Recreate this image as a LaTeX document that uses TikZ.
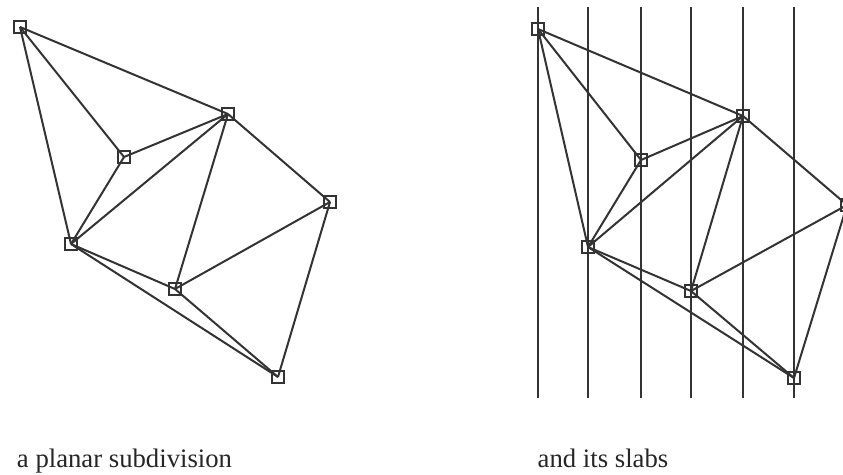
\documentclass[tikz,border=0pt]{standalone}
\usepackage{fontspec}
\setmainfont{Liberation Serif}
\usetikzlibrary{positioning}
\tikzset{
  vtx/.style={draw, rectangle, minimum size=12pt, inner sep=0pt, line width=1.5pt, black!80},
  edge/.style={line width=2pt, black!80},
  slab/.style={line width=2pt, black!80},
  caption/.style={font=\fontsize{26.7}{30}\selectfont, anchor=base, text=black!85}
}
\begin{document}
\begin{tikzpicture}[x=1pt,y=-1pt]
\useasboundingbox (0,0) rectangle (843,474);

% Left: the planar subdivision
\node[vtx] (lA) at (20,27) {};
\node[vtx] (lB) at (228,114) {};
\node[vtx] (lC) at (124,157) {};
\node[vtx] (lD) at (330,202) {};
\node[vtx] (lE) at (71,244) {};
\node[vtx] (lF) at (175,289) {};
\node[vtx] (lG) at (278,377) {};
\foreach \u/\v in {A/B,A/C,A/E,C/B,C/E,E/B,B/F,B/D,D/F,D/G,E/F,E/G,F/G}
  \draw[edge] (l\u.center) -- (l\v.center);

% Right: the same subdivision cut into slabs
\node[vtx] (rA) at (538,29) {};
\node[vtx] (rB) at (743,116) {};
\node[vtx] (rC) at (641,160) {};
\node[vtx] (rD) at (847,205) {};
\node[vtx] (rE) at (588,247) {};
\node[vtx] (rF) at (691,291) {};
\node[vtx] (rG) at (794,378) {};
\foreach \u/\v in {A/B,A/C,A/E,C/B,C/E,E/B,B/F,B/D,D/F,D/G,E/F,E/G,F/G}
  \draw[edge] (r\u.center) -- (r\v.center);

% Slab boundaries through the vertices
\coordinate (slabtop) at (0,7);
\coordinate (slabbot) at (0,398);
\foreach \v in {A,B,C,E,F,G}
  \draw[slab] (r\v |- slabtop) -- (r\v |- slabbot);

% Captions
\node[caption] (lcap) at (124.5,467) {a planar subdivision};
\node[caption] (rcap) at (603,467) {and its slabs};
\end{tikzpicture}
\end{document}
